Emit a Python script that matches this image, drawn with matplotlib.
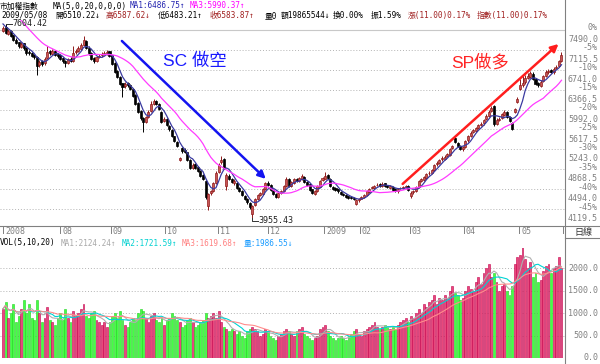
import numpy as np
import pandas as pd
import matplotlib
matplotlib.use("Agg")
import matplotlib.pyplot as plt

# ---------------- data ----------------
prior_closes = [8620, 8550, 8500, 8460, 8380, 8300, 8330, 8250, 8180, 8150,
                8050, 7980, 7900, 7850, 7760, 7700, 7650, 7600, 7550]

opens = [7480, 7540, 7420, 7470, 7390, 7310, 7260, 7170, 7240, 7160,
         7080, 7060, 7010, 6990, 6830, 6900, 6860, 6960, 7090, 7040,
         7090, 7030, 7010, 6960, 6910, 6870, 6950, 6910, 7070, 7090,
         7140, 7210, 7290, 7160, 7060, 6960, 6910, 6990, 7010, 7030,
         7050, 7090, 7010, 6860, 6710, 6610, 6490, 6430, 6490, 6460,
         6370, 6260, 6110, 5960, 5840, 5760, 5860, 5960, 6100, 6160,
         6090, 5950, 5770, 5810, 5690, 5610, 5490, 5390, 5040, 5260,
         5230, 5190, 5040, 4890, 4960, 4910, 4830, 4760, 4650, 4180,
         4420, 4460, 4610, 4810, 5000, 5060, 4560, 4740, 4690, 4600,
         4600, 4510, 4450, 4370, 4300, 4240, 4020, 4190, 4310, 4390,
         4410, 4500, 4610, 4570, 4470, 4410, 4340, 4430, 4460, 4560,
         4690, 4550, 4610, 4690, 4640, 4690, 4730, 4630, 4590, 4490,
         4410, 4460, 4540, 4660, 4690, 4760, 4690, 4540, 4510, 4490,
         4440, 4410, 4390, 4360, 4340, 4330, 4220, 4280, 4310, 4340,
         4390, 4440, 4510, 4520, 4570, 4590, 4550, 4600, 4570, 4520,
         4540, 4490, 4450, 4510, 4510, 4530, 4560, 4360, 4440, 4460,
         4540, 4640, 4670, 4710, 4790, 4790, 4860, 4960, 4980, 5060,
         5070, 5110, 5140, 5260, 5460, 5370, 5310, 5240, 5290, 5410,
         5490, 5570, 5590, 5650, 5710, 5730, 5810, 5880, 5960, 6050,
         5720, 5790, 5830, 5890, 5940, 5850, 5740, 5950, 6140, 6380,
         6460, 6510, 6590, 6610, 6670, 6570, 6490, 6440, 6530, 6620,
         6690, 6740, 6690, 6770, 6810, 6900]

highs = [7560, 7604.42, 7500, 7490, 7400, 7330, 7270, 7260, 7250, 7170,
         7110, 7080, 7030, 7000, 6920, 6920, 6980, 7180, 7110, 7130,
         7110, 7060, 7030, 6980, 6930, 6970, 6980, 7180, 7130, 7180,
         7240, 7380, 7310, 7180, 7080, 6980, 7000, 7040, 7080, 7100,
         7110, 7100, 7020, 6880, 6730, 6620, 6500, 6510, 6510, 6480,
         6390, 6290, 6130, 5980, 5860, 5880, 5980, 6150, 6200, 6180,
         6110, 5960, 5850, 5830, 5700, 5620, 5500, 5400, 5100, 5290,
         5260, 5200, 5060, 4980, 4990, 4930, 4850, 4780, 4670, 4430,
         4480, 4620, 4830, 4980, 5110, 5080, 4790, 4770, 4700, 4680,
         4620, 4530, 4470, 4390, 4320, 4260, 4200, 4320, 4400, 4440,
         4520, 4630, 4650, 4590, 4490, 4420, 4440, 4470, 4570, 4730,
         4700, 4640, 4700, 4710, 4720, 4770, 4740, 4640, 4600, 4500,
         4470, 4570, 4670, 4720, 4820, 4780, 4700, 4560, 4530, 4500,
         4460, 4430, 4400, 4370, 4360, 4340, 4300, 4320, 4370, 4400,
         4470, 4520, 4550, 4580, 4610, 4600, 4620, 4610, 4580, 4570,
         4560, 4510, 4520, 4540, 4560, 4580, 4570, 4450, 4480, 4550,
         4670, 4710, 4750, 4800, 4830, 4870, 4970, 5020, 5070, 5110,
         5130, 5180, 5270, 5330, 5480, 5390, 5320, 5300, 5420, 5520,
         5580, 5630, 5660, 5720, 5760, 5820, 5900, 5980, 6060, 6080,
         5830, 5850, 5920, 5980, 5960, 5870, 5760, 6030, 6230, 6560,
         6620, 6640, 6680, 6720, 6690, 6590, 6510, 6550, 6650, 6730,
         6760, 6760, 6790, 6840, 6930, 7070]

lows = [7460, 7420, 7400, 7360, 7280, 7220, 7150, 7150, 7120, 7020,
        7020, 6980, 6940, 6640, 6800, 6820, 6840, 6950, 7020, 7020,
        7000, 6970, 6930, 6870, 6800, 6850, 6880, 6890, 7040, 7070,
        7120, 7190, 7130, 7020, 6930, 6860, 6890, 6960, 6990, 7020,
        7020, 6980, 6830, 6680, 6580, 6450, 6230, 6400, 6420, 6360,
        6220, 6080, 5920, 5800, 5570, 5740, 5840, 5940, 6080, 6080,
        5980, 5740, 5750, 5680, 5590, 5480, 5380, 5280, 5020, 5180,
        5180, 5030, 4880, 4870, 4880, 4820, 4730, 4660, 4300, 4110,
        4380, 4440, 4590, 4790, 4960, 4880, 4480, 4660, 4600, 4580,
        4500, 4440, 4360, 4290, 4220, 4120, 3955.43, 4170, 4290, 4370,
        4390, 4480, 4560, 4460, 4380, 4320, 4330, 4400, 4440, 4540,
        4540, 4530, 4590, 4630, 4620, 4670, 4600, 4560, 4460, 4400,
        4390, 4440, 4530, 4640, 4680, 4680, 4530, 4480, 4460, 4430,
        4380, 4360, 4330, 4310, 4300, 4280, 4190, 4260, 4300, 4330,
        4370, 4430, 4490, 4500, 4550, 4540, 4530, 4540, 4510, 4500,
        4460, 4440, 4430, 4490, 4490, 4510, 4460, 4330, 4410, 4440,
        4520, 4620, 4650, 4690, 4760, 4770, 4840, 4930, 4960, 5030,
        5050, 5090, 5120, 5240, 5360, 5280, 5230, 5220, 5270, 5390,
        5470, 5550, 5570, 5630, 5680, 5710, 5790, 5860, 5940, 5680,
        5700, 5770, 5810, 5870, 5830, 5760, 5600, 5930, 6120, 6360,
        6420, 6480, 6560, 6590, 6540, 6460, 6420, 6420, 6510, 6600,
        6670, 6680, 6670, 6750, 6790, 6880]

closes = [7520, 7440, 7480, 7380, 7300, 7250, 7180, 7230, 7150, 7060,
          7050, 7000, 6980, 6820, 6880, 6850, 6950, 7080, 7050, 7100,
          7020, 7000, 6950, 6900, 6860, 6940, 6900, 7060, 7100, 7150,
          7200, 7300, 7150, 7050, 6950, 6900, 6980, 7000, 7040, 7060,
          7080, 7000, 6850, 6700, 6600, 6480, 6420, 6480, 6450, 6380,
          6250, 6100, 5950, 5830, 5750, 5850, 5950, 6100, 6150, 6100,
          6000, 5760, 5820, 5700, 5620, 5500, 5400, 5300, 5080, 5220,
          5200, 5050, 4900, 4950, 4900, 4840, 4750, 4680, 4350, 4400,
          4450, 4600, 4800, 4950, 5050, 4900, 4760, 4680, 4620, 4650,
          4520, 4460, 4380, 4310, 4250, 4150, 4180, 4300, 4380, 4420,
          4500, 4600, 4580, 4480, 4400, 4350, 4420, 4450, 4550, 4680,
          4560, 4620, 4680, 4650, 4700, 4740, 4620, 4580, 4480, 4420,
          4450, 4550, 4650, 4700, 4750, 4700, 4550, 4500, 4480, 4450,
          4400, 4380, 4350, 4330, 4320, 4300, 4280, 4300, 4350, 4380,
          4450, 4500, 4530, 4560, 4580, 4560, 4590, 4560, 4530, 4550,
          4480, 4460, 4500, 4520, 4540, 4560, 4480, 4430, 4450, 4530,
          4650, 4680, 4720, 4780, 4800, 4850, 4950, 4990, 5050, 5080,
          5100, 5150, 5250, 5300, 5380, 5300, 5250, 5280, 5400, 5500,
          5560, 5600, 5640, 5700, 5720, 5800, 5880, 5950, 6020, 5720,
          5800, 5820, 5900, 5950, 5850, 5780, 5620, 6000, 6200, 6450,
          6500, 6580, 6620, 6680, 6560, 6480, 6450, 6520, 6620, 6700,
          6720, 6700, 6760, 6800, 6900, 7020]

volumes = [1100, 1250, 900, 1000, 1200, 800, 950, 1100, 1300, 1000,
           1200, 900, 850, 1300, 1000, 800, 900, 1150, 850, 800,
           750, 900, 1000, 850, 1100, 900, 800, 1050, 950, 1000,
           1100, 1200, 950, 900, 1000, 1050, 850, 800, 750, 800,
           700, 800, 950, 1000, 900, 1050, 850, 750, 700, 800,
           900, 850, 1000, 1100, 1050, 900, 800, 950, 1000, 850,
           800, 900, 750, 850, 900, 1000, 950, 850, 800, 700,
           750, 850, 900, 800, 700, 750, 800, 850, 1000, 900,
           950, 1000, 900, 1050, 800, 700, 650, 600, 650, 600,
           550, 600, 500, 450, 600, 650, 700, 650, 600, 500,
           550, 650, 600, 500, 450, 400, 500, 550, 600, 650,
           600, 550, 500, 600, 650, 700, 550, 500, 450, 400,
           450, 500, 650, 700, 750, 600, 500, 450, 400, 450,
           500, 450, 400, 500, 550, 600, 650, 550, 500, 600,
           650, 700, 750, 800, 700, 650, 700, 750, 700, 650,
           700, 650, 750, 800, 850, 900, 800, 950, 900, 1000,
           1100, 1000, 1200, 1150, 1250, 1300, 1400, 1200, 1350, 1300,
           1400, 1350, 1500, 1600, 1450, 1400, 1300, 1350, 1500, 1600,
           1550, 1500, 1700, 1800, 1650, 1900, 2000, 2100, 1800, 1900,
           1700, 1500, 1600, 1650, 1500, 1400, 1600, 2100, 2250, 2300,
           2500, 2200, 2000, 2150, 1800, 1900, 1700, 1750, 1950, 2050,
           2100, 1900, 2000, 2050, 2250, 2000]

price_levels = [7490.0, 7115.5, 6741.0, 6366.5, 5992.0, 5617.5, 5243.0, 4868.5, 4494.0, 4119.5]
pct_labels = ["0%", "-5%", "-10%", "-15%", "-20%", "-25%", "-30%", "-35%", "-40%", "-45%"]
vol_levels = [500, 1000, 1500, 2000]
vol_labels = ["500.0", "1000.0", "1500.0", "2000.0"]
zero_label = "0.0"
month_ticks = [0, 22, 41.5, 62.3, 82.7, 101.9, 123.5, 137.3, 156.5, 177.3, 198.5, 215.4]
month_labels = ["2008", "08", "09", "10", "11", "12", "2009", "02", "03", "04", "05", ""]
max_label = "7604.42"
min_label = "3955.43"

# ---------------- figure ----------------
W, H = 600, 364
fig = plt.figure(figsize=(W / 100, H / 100), dpi=100)
fig.patch.set_facecolor("white")
MONO = ["DejaVu Sans Mono", "Noto Sans CJK TC"]
SANS = ["Liberation Sans", "Noto Sans CJK TC"]
FS = 5.6


def ftext(px, py, s, color="black", size=FS, ha="left", family=MONO, **kw):
    fig.text(px / W, 1 - py / H, s, color=color, fontsize=size, ha=ha,
             va="center", family=family, **kw)


def fline(x0, x1, y0, y1, color="#808080", lw=0.8, ls="-"):
    fig.add_artist(plt.Line2D([x0 / W, x1 / W], [1 - y0 / H, 1 - y1 / H],
                              color=color, lw=lw, ls=ls, transform=fig.transFigure))


n = len(closes)
idx = np.arange(n)
o = np.array(opens, float); c = np.array(closes, float)
h = np.array(highs, float); l = np.array(lows, float)
v = np.array(volumes, float)
up = c >= o

# price panel: pixel rows 20..226, columns 0..565 ; x(i) = 3 + 2.6 i px
PX_I = 2.6
ax = fig.add_axes([0, 1 - 226 / H, 565 / W, (226 - 20) / H])
px_per_level = 19.9
step = price_levels[0] - price_levels[1]
y_top = price_levels[0] + (30 - 20) / px_per_level * step
y_bot = price_levels[-1] - (226 - 209) / px_per_level * step
ax.set_ylim(y_bot, y_top)
ax.set_xlim(-3 / PX_I, 562 / PX_I + 0.2)
ax.axis("off")

for k, lev in enumerate(price_levels):
    if k == 0:
        ax.axhline(lev, color="#c8c8c8", lw=0.8, zorder=0)
    else:
        ax.axhline(lev, color="#b4b4b4", lw=0.7, ls=(0, (1, 2)), zorder=0)

RED_F, RED_E = "#c85454", "#8e1a1a"
ax.vlines(idx, l, h, colors=np.where(up, RED_E, "black"), lw=0.7, zorder=2)
body_lo = np.minimum(o, c)
body_h = np.maximum(np.abs(c - o), 8)
ax.bar(idx, body_h, bottom=body_lo, width=0.78,
       color=np.where(up, RED_F, "black"),
       edgecolor=np.where(up, RED_E, "black"), linewidth=0.5, zorder=3)

all_c = pd.Series(list(prior_closes) + list(closes), dtype=float)
ma5 = all_c.rolling(5, min_periods=1).mean().to_numpy()[len(prior_closes):]
ma20 = all_c.rolling(20, min_periods=1).mean().to_numpy()[len(prior_closes):]
ax.plot(idx, ma5, color="#3a3aa0", lw=0.9, zorder=4)
ax.plot(idx, ma20, color="#ff3cff", lw=0.9, zorder=4)


def P(px, py):
    """pixel position -> data coordinates of the price panel"""
    return ((px - 3) / PX_I, price_levels[0] - (py - 30) / px_per_level * step)


# extremes labels
imax = int(np.argmax(h)); imin = int(np.argmin(l))
ax.plot([imax, imax + 2.5], [h[imax], h[imax]], color="#333333", lw=0.7, zorder=5)
ax.text(imax + 2.7, h[imax], max_label, fontsize=6.0, family=MONO, va="center",
        ha="left", color="#222222", zorder=5)
ax.plot([imin, imin, imin + 2.0], [l[imin], P(0, 221)[1], P(0, 221)[1]],
        color="#333333", lw=0.7, zorder=5, clip_on=False)
ax.text(imin + 2.2, P(0, 221)[1], min_label, fontsize=6.0, family=MONO, va="center",
        ha="left", color="#222222", zorder=5, clip_on=False)

# trend arrows and notes
ax.annotate("", xy=P(266, 179), xytext=P(122, 41),
            arrowprops=dict(arrowstyle="-|>", color="#1414f0", lw=1.8,
                            mutation_scale=11, shrinkA=0, shrinkB=0), zorder=6)
ax.annotate("", xy=P(559, 44), xytext=P(403, 184),
            arrowprops=dict(arrowstyle="-|>", color="#ff1e1e", lw=1.8,
                            mutation_scale=11, shrinkA=0, shrinkB=0), zorder=6)
ax.text(*P(163, 61), "SC 做空", fontsize=12.5, family=SANS, color="#1a1aff",
        ha="left", va="center", zorder=6)
ax.text(*P(452, 62), "SP做多", fontsize=12.5, family=SANS, color="#ff2424",
        ha="left", va="center", zorder=6)

# volume panel: zero at pixel row 358.3, 0.045 px per unit
ax2 = fig.add_axes([0, 1 - 358.3 / H, 565 / W, (358.3 - 248) / H])
ax2.set_xlim(ax.get_xlim())
ax2.set_ylim(0, (358.3 - 248) / 0.045)
ax2.axis("off")
for lev in vol_levels:
    ax2.axhline(lev, color="#b4b4b4", lw=0.7, ls=(0, (1, 2)), zorder=0)
ax2.bar(idx, v, width=0.72, color=np.where(up, "#e8487c", "#44ff44"),
        edgecolor=np.where(up, "#c4004c", "#22d022"), linewidth=0.4, zorder=2)
vs = pd.Series(v)
ax2.plot(idx, vs.rolling(5, min_periods=1).mean(), color="#b0b0b0", lw=0.8, zorder=3)
ax2.plot(idx, vs.rolling(10, min_periods=1).mean(), color="#00d4d4", lw=0.8, zorder=3)
ax2.plot(idx, vs.rolling(20, min_periods=1).mean(), color="#ff8c8c", lw=0.8, zorder=3)

# frame lines
fline(565, 565, 0, 364)
fline(0, 600, 226, 226)
fline(565, 600, 238, 238)

# right axis labels
for k, lev in enumerate(price_levels):
    gy = 30 + k * px_per_level
    ftext(598, gy - 2, pct_labels[k], color="#808080", ha="right", size=6.0)
    ftext(598, gy + 9.5, f"{lev:.1f}", color="#808080", ha="right", size=6.0)
for lev, lab in zip(vol_levels, vol_labels):
    ftext(598, 358.3 - lev * 0.045, lab, color="#808080", ha="right", size=6.0)
ftext(598, 357, zero_label, color="#808080", ha="right", size=6.0)
ftext(583, 232, "日線", color="#333333", ha="center", size=6.5)

# date axis
for t, lab in zip(month_ticks, month_labels):
    xp = 3 + t * PX_I
    fline(xp, xp, 226, 233, color="#808080", lw=0.7)
    if lab:
        ftext(xp + 2, 232, lab, color="#808080", size=6.0)

# header
row1 = [("市加權指數", 0, "black"), ("MA(5,0,20,0,0,0)", 53, "black"),
        ("MA1:6486.75↑", 130, "#2424b0"), ("MA3:5990.37↑", 190, "#ff00ff")]
row2 = [("2009/05/08", 1, "black"), ("開6510.22↓", 55, "black"),
        ("高6587.62↓", 106, "#a02020"), ("低6483.21↑", 158, "black"),
        ("收6583.87↑", 210, "#a02020"), ("量0", 265, "black"),
        ("額19865544↓", 281, "black"), ("換0.00%", 333, "black"),
        ("振1.59%", 371, "black"), ("漲(11.00)0.17%", 408, "#a02020"),
        ("指數(11.00)0.17%", 477, "#a02020")]
for s, x, col in row1:
    ftext(x, 6, s, color=col)
for s, x, col in row2:
    ftext(x, 15.5, s, color=col)
vol_hdr = [("VOL(5,10,20)", 0, "black"), ("MA1:2124.24↑", 61, "#a8a8a8"),
           ("MA2:1721.59↑", 122, "#00d0d0"), ("MA3:1619.68↑", 182, "#ff8080"),
           ("量:1986.55↓", 244, "#1a9cff")]
for s, x, col in vol_hdr:
    ftext(x, 243, s, color=col)

fig.savefig("out.png", dpi=100, facecolor="white")
